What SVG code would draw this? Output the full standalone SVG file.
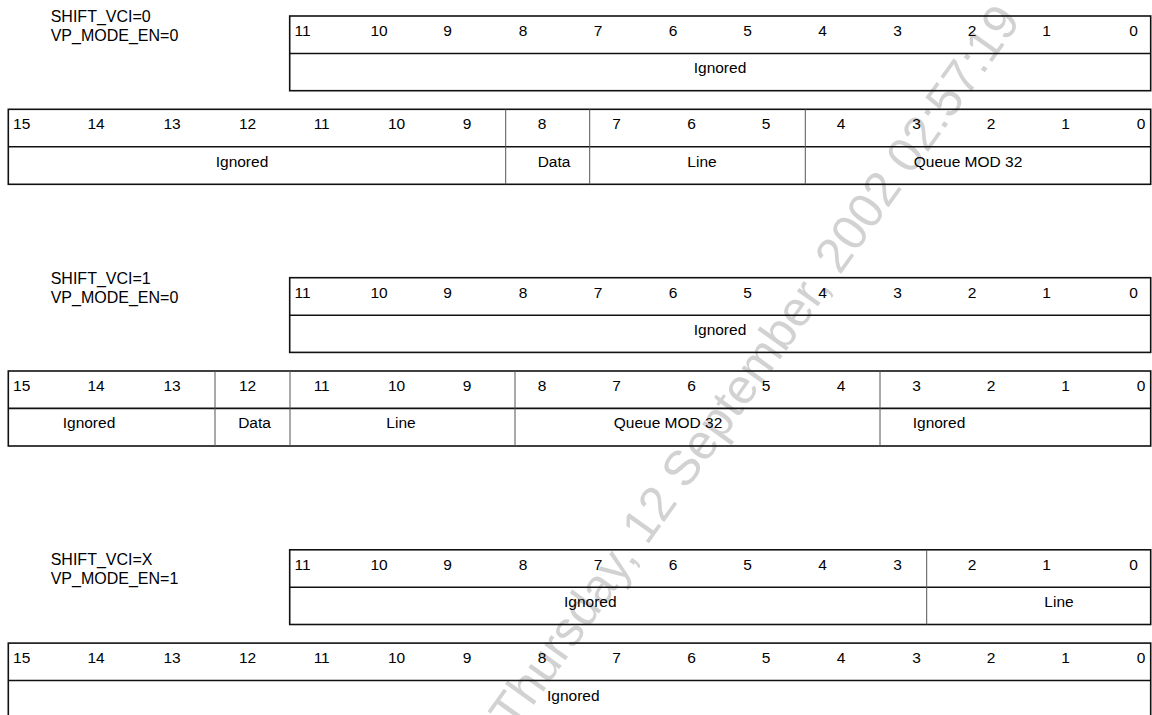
<svg xmlns="http://www.w3.org/2000/svg" width="1152" height="715" viewBox="0 0 1152 715">
<style>
.box{fill:none;stroke:#111;stroke-width:1.6}
.hl{stroke:#111;stroke-width:1.6}
.dv{stroke:#555;stroke-width:1}
.n{font-family:"Liberation Sans",Arial,sans-serif;font-size:15.5px;fill:#000;text-anchor:middle}
.lbl{font-family:"Liberation Sans",Arial,sans-serif;font-size:16px;fill:#000}
.wm{font-family:"Liberation Sans",Arial,sans-serif;font-size:49px;fill:#d2d2d2}
</style>
<rect width="1152" height="715" fill="#fff"/>
<text class="wm" x="514.5" y="731.8" transform="rotate(-54.5 514.5 731.8)">Thursday, 12 September, 2002 02:57:19</text>

<!-- Section 1 -->
<g id="mode1-label">
<text class="lbl" x="50.7" y="21.7">SHIFT_VCI=0</text>
<text class="lbl" x="50.7" y="40.7">VP_MODE_EN=0</text>
</g>
<g id="mode1-reg12">
<rect class="box" x="289.7" y="16" width="861" height="74.7"/>
<line class="hl" x1="289.7" y1="53.5" x2="1150.7" y2="53.5"/>
<text class="n" y="36"><tspan x="302.5">11</tspan><tspan x="379">10</tspan><tspan x="447.5">9</tspan><tspan x="523">8</tspan><tspan x="598">7</tspan><tspan x="673">6</tspan><tspan x="747.5">5</tspan><tspan x="822.5">4</tspan><tspan x="897.5">3</tspan><tspan x="972">2</tspan><tspan x="1046.5">1</tspan><tspan x="1133.5">0</tspan></text>
<text class="n" x="720" y="73.3">Ignored</text>
</g>
<g id="mode1-reg16">
<rect class="box" x="8.3" y="109.3" width="1142.4" height="75"/>
<line class="hl" x1="8.3" y1="146.7" x2="1150.7" y2="146.7"/>
<line class="dv" x1="505.7" y1="109.3" x2="505.7" y2="184.3"/>
<line class="dv" x1="589.7" y1="109.3" x2="589.7" y2="184.3"/>
<line class="dv" x1="805.3" y1="109.3" x2="805.3" y2="184.3"/>
<text class="n" y="129"><tspan x="21.7">15</tspan><tspan x="96">14</tspan><tspan x="172">13</tspan><tspan x="247.5">12</tspan><tspan x="321.7">11</tspan><tspan x="396.5">10</tspan><tspan x="467">9</tspan><tspan x="542">8</tspan><tspan x="616.5">7</tspan><tspan x="691.5">6</tspan><tspan x="766">5</tspan><tspan x="841">4</tspan><tspan x="916.5">3</tspan><tspan x="991">2</tspan><tspan x="1065.5">1</tspan><tspan x="1141">0</tspan></text>
<text class="n" y="166.7"><tspan x="242">Ignored</tspan><tspan x="554">Data</tspan><tspan x="702">Line</tspan><tspan x="968">Queue MOD 32</tspan></text>
</g>

<!-- Section 2 -->
<g id="mode2-label">
<text class="lbl" x="50.7" y="284">SHIFT_VCI=1</text>
<text class="lbl" x="50.7" y="303.3">VP_MODE_EN=0</text>
</g>
<g id="mode2-reg12">
<rect class="box" x="289.7" y="277.7" width="861" height="74.7"/>
<line class="hl" x1="289.7" y1="315.2" x2="1150.7" y2="315.2"/>
<text class="n" y="297.7"><tspan x="302.5">11</tspan><tspan x="379">10</tspan><tspan x="447.5">9</tspan><tspan x="523">8</tspan><tspan x="598">7</tspan><tspan x="673">6</tspan><tspan x="747.5">5</tspan><tspan x="822.5">4</tspan><tspan x="897.5">3</tspan><tspan x="972">2</tspan><tspan x="1046.5">1</tspan><tspan x="1133.5">0</tspan></text>
<text class="n" x="720" y="335">Ignored</text>
</g>
<g id="mode2-reg16">
<rect class="box" x="8.3" y="371" width="1142.4" height="75"/>
<line class="hl" x1="8.3" y1="408.4" x2="1150.7" y2="408.4"/>
<line class="dv" x1="215" y1="371" x2="215" y2="446"/>
<line class="dv" x1="290" y1="371" x2="290" y2="446"/>
<line class="dv" x1="515" y1="371" x2="515" y2="446"/>
<line class="dv" x1="880" y1="371" x2="880" y2="446"/>
<text class="n" y="390.7"><tspan x="21.7">15</tspan><tspan x="96">14</tspan><tspan x="172">13</tspan><tspan x="247.5">12</tspan><tspan x="321.7">11</tspan><tspan x="396.5">10</tspan><tspan x="467">9</tspan><tspan x="542">8</tspan><tspan x="616.5">7</tspan><tspan x="691.5">6</tspan><tspan x="766">5</tspan><tspan x="841">4</tspan><tspan x="916.5">3</tspan><tspan x="991">2</tspan><tspan x="1065.5">1</tspan><tspan x="1141">0</tspan></text>
<text class="n" y="428.4"><tspan x="89">Ignored</tspan><tspan x="254.5">Data</tspan><tspan x="401">Line</tspan><tspan x="668">Queue MOD 32</tspan><tspan x="939">Ignored</tspan></text>
</g>

<!-- Section 3 -->
<g id="mode3-label">
<text class="lbl" x="50.7" y="565">SHIFT_VCI=X</text>
<text class="lbl" x="50.7" y="584">VP_MODE_EN=1</text>
</g>
<g id="mode3-reg12">
<rect class="box" x="289.7" y="549.8" width="861" height="74.7"/>
<line class="hl" x1="289.7" y1="587.3" x2="1150.7" y2="587.3"/>
<line class="dv" x1="926.7" y1="549.8" x2="926.7" y2="624.5"/>
<text class="n" y="569.8"><tspan x="302.5">11</tspan><tspan x="379">10</tspan><tspan x="447.5">9</tspan><tspan x="523">8</tspan><tspan x="598">7</tspan><tspan x="673">6</tspan><tspan x="747.5">5</tspan><tspan x="822.5">4</tspan><tspan x="897.5">3</tspan><tspan x="972">2</tspan><tspan x="1046.5">1</tspan><tspan x="1133.5">0</tspan></text>
<text class="n" y="607.1"><tspan x="590.3">Ignored</tspan><tspan x="1059">Line</tspan></text>
</g>
<g id="mode3-reg16">
<rect class="box" x="8.3" y="643.1" width="1142.4" height="75"/>
<line class="hl" x1="8.3" y1="680.5" x2="1150.7" y2="680.5"/>
<text class="n" y="662.8"><tspan x="21.7">15</tspan><tspan x="96">14</tspan><tspan x="172">13</tspan><tspan x="247.5">12</tspan><tspan x="321.7">11</tspan><tspan x="396.5">10</tspan><tspan x="467">9</tspan><tspan x="542">8</tspan><tspan x="616.5">7</tspan><tspan x="691.5">6</tspan><tspan x="766">5</tspan><tspan x="841">4</tspan><tspan x="916.5">3</tspan><tspan x="991">2</tspan><tspan x="1065.5">1</tspan><tspan x="1141">0</tspan></text>
<text class="n" x="573.3" y="700.5">Ignored</text>
</g>
</svg>
